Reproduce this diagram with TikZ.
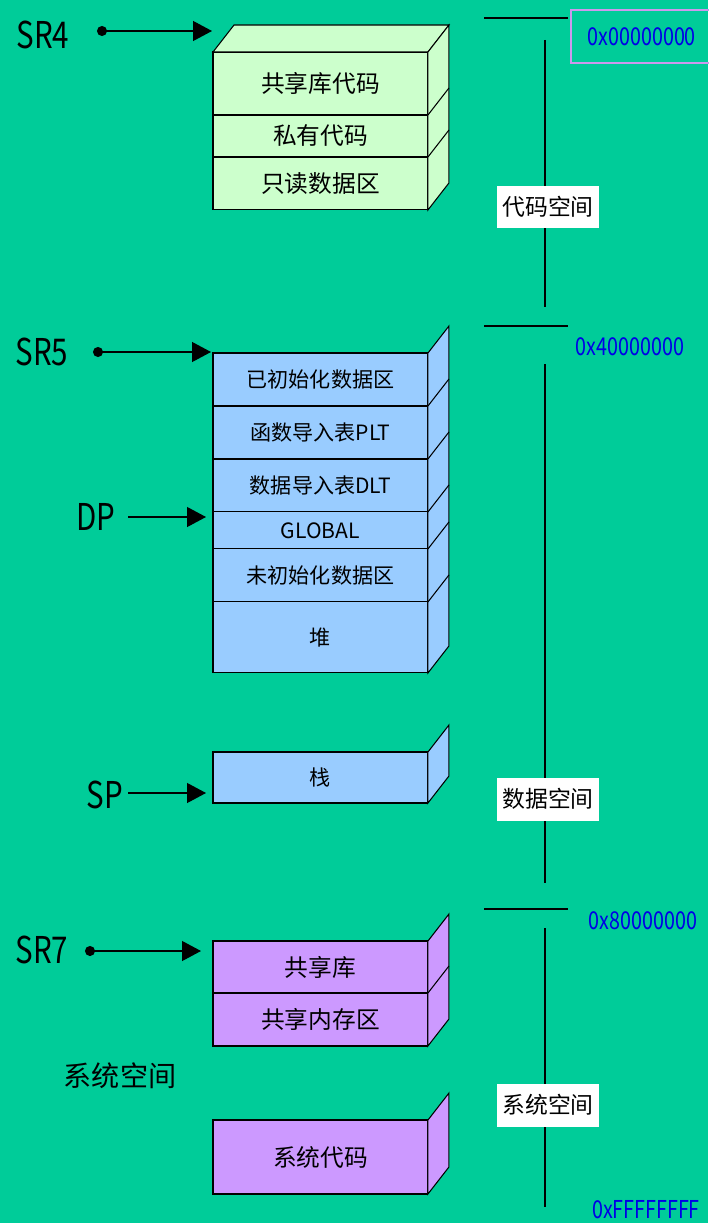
\documentclass[tikz,border=0pt]{standalone}
\usepackage{fontspec}
\setmainfont{Noto Sans CJK SC}
\newfontfamily\narrowfont[FakeStretch=0.8]{Noto Sans CJK SC}
\usetikzlibrary{arrows.meta}
\definecolor{bggreen}{RGB}{0,204,153}
\definecolor{codegreen}{RGB}{204,255,204}
\definecolor{datablue}{RGB}{153,204,255}
\definecolor{syspurple}{RGB}{204,153,255}
\definecolor{addrblue}{RGB}{0,0,230}
\definecolor{addrframe}{RGB}{204,153,238}
\begin{document}
\begin{tikzpicture}[x=0.02cm,y=-0.02cm,
  layer/.style={draw,line width=0.6pt,minimum width=4.3cm,inner sep=0pt,outer sep=0pt,anchor=north west,font=\fontsize{13.5}{14}\selectfont},
  small/.style={font=\fontsize{12}{13}\selectfont},
  side/.style={draw,line width=0.6pt},
  reg/.style={font=\narrowfont\fontsize{21}{22}\selectfont},
  ptr/.style={line width=0.7pt,{Circle[length=0.2cm]}-{Triangle[length=0.38cm,width=0.4cm]}},
  ptrb/.style={line width=0.7pt,-{Triangle[length=0.38cm,width=0.4cm]}},
  space/.style={fill=white,minimum width=2.06cm,minimum height=0.86cm,inner sep=0pt,font=\fontsize{13}{14}\selectfont},
  addr/.style={text=addrblue,font=\narrowfont\fontsize{14}{15}\selectfont}]
\useasboundingbox (0,0) rectangle (708,1223);
\fill[bggreen] (0,0) rectangle (708,1223);

% code space
\node[layer,fill=codegreen,minimum height=1.26cm] (shlib) at (213,52) {共享库代码};
\node[layer,fill=codegreen,minimum height=0.84cm] (priv) at (shlib.south west) {私有代码};
\node[layer,fill=codegreen,minimum height=1.06cm] (rodata) at (priv.south west) {只读数据区};
\draw[side,fill=codegreen] (shlib.north west) -- ++(21,-27) -- ++(215,0) -- (shlib.north east) -- cycle;
\draw[side,fill=codegreen] (shlib.north east) -- ++(21,-27) -- ([shift={(21,-27)}]rodata.south east) -- (rodata.south east) -- cycle;
\foreach \n in {shlib,priv} \draw[side] (\n.south east) -- ++(21,-27);

% data space
\node[layer,small,fill=datablue,minimum height=1.06cm] (init) at (213,353) {已初始化数据区};
\node[layer,small,fill=datablue,minimum height=1.06cm] (plt) at (init.south west) {函数导入表PLT};
\node[layer,small,fill=datablue,minimum height=1.06cm] (dlt) at (plt.south west) {数据导入表DLT};
\node[layer,small,fill=datablue,minimum height=0.74cm] (global) at (dlt.south west) {GLOBAL};
\node[layer,small,fill=datablue,minimum height=1.06cm] (bss) at (global.south west) {未初始化数据区};
\node[layer,small,fill=datablue,minimum height=1.42cm] (heap) at (bss.south west) {堆};
\draw[side,fill=datablue] (init.north east) -- ++(21,-27) -- ([shift={(21,-27)}]heap.south east) -- (heap.south east) -- cycle;
\foreach \n in {init,plt,dlt,global,bss} \draw[side] (\n.south east) -- ++(21,-27);

\node[layer,small,fill=datablue,minimum height=1.02cm] (stack) at (213,752) {栈};
\draw[side,fill=datablue] (stack.north east) -- ++(21,-27) -- ([shift={(21,-27)}]stack.south east) -- (stack.south east) -- cycle;

% system space
\node[layer,fill=syspurple,minimum height=1.04cm] (shmlib) at (213,941) {共享库};
\node[layer,fill=syspurple,minimum height=1.06cm] (shmem) at (shmlib.south west) {共享内存区};
\draw[side,fill=syspurple] (shmlib.north east) -- ++(21,-27) -- ([shift={(21,-27)}]shmem.south east) -- (shmem.south east) -- cycle;
\draw[side] (shmlib.south east) -- ++(21,-27);
\node[layer,fill=syspurple,minimum height=1.48cm] (syscode) at (213,1120) {系统代码};
\draw[side,fill=syspurple] (syscode.north east) -- ++(21,-27) -- ([shift={(21,-27)}]syscode.south east) -- (syscode.south east) -- cycle;
\node[font=\fontsize{16}{17}\selectfont] (syslabel) at (120,1076) {系统空间};

% registers
\node[reg] (sr4) at (43,35) {SR4};
\node[reg] (sr5) at (42,352) {SR5};
\node[reg] (sr7) at (42,950) {SR7};
\node[reg] (dp) at (96,517) {DP};
\node[reg] (sp) at (105,795) {SP};
\coordinate (sr4from) at (97,31);
\coordinate (sr4to) at (212,31);
\coordinate (sr5from) at (93,352);
\coordinate (sr5to) at (211,352);
\coordinate (dpfrom) at (128,517);
\coordinate (dpto) at (206,517);
\coordinate (spfrom) at (128,793);
\coordinate (spto) at (206,793);
\coordinate (sr7from) at (85,951);
\coordinate (sr7to) at (201,951);
\draw[ptr] (sr4from) -- (sr4to);
\draw[ptr] (sr5from) -- (sr5to);
\draw[ptrb] (dpfrom) -- (dpto);
\draw[ptrb] (spfrom) -- (spto);
\draw[ptr] (sr7from) -- (sr7to);

% address axis
\draw[line width=0.8pt] (484,18) -- (568,18);
\draw[line width=0.8pt] (484,326) -- (568,326);
\draw[line width=0.8pt] (484,909) -- (568,909);
\draw[line width=0.6pt] (545,40) -- (545,307);
\draw[line width=0.6pt] (545,364) -- (545,883);
\draw[line width=0.6pt] (545,928) -- (545,1207);
\node[space] (codesp) at (548,207) {代码空间};
\node[space] (datasp) at (548,799) {数据空间};
\node[space] (syssp) at (548,1105) {系统空间};
\node[addr,draw=addrframe,line width=1pt,minimum width=2.84cm,minimum height=1.06cm,anchor=north west] (addr0) at (570,9) {0x00000000};
\node[addr] (addr4) at (630,347) {0x40000000};
\node[addr] (addr8) at (643,921) {0x80000000};
\node[addr,anchor=west] (addrf) at (586,1210) {0xFFFFFFFF};
\end{tikzpicture}
\end{document}
